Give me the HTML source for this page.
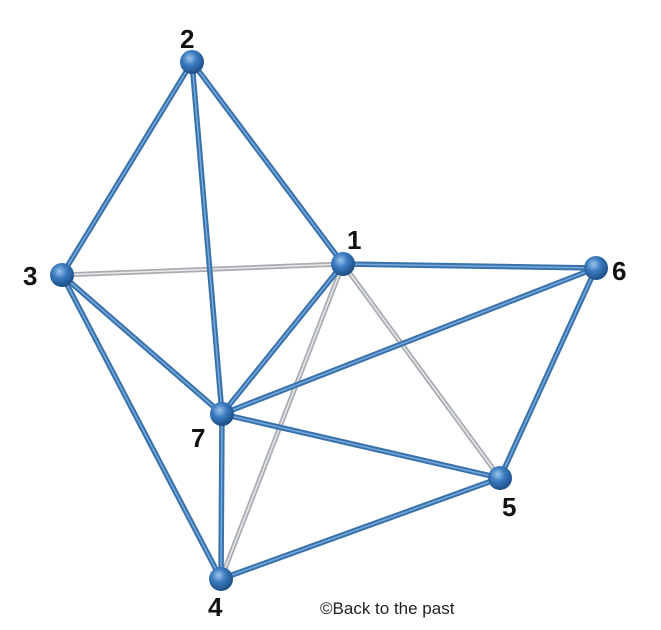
<!DOCTYPE html>
<html><head><meta charset="utf-8"><style>
html,body{margin:0;padding:0;background:#fff;width:661px;height:630px;overflow:hidden}
svg{display:block}
text{font-family:"Liberation Sans",Arial,sans-serif;font-weight:bold;font-size:26px;fill:#111}
</style></head><body>
<svg width="661" height="630" viewBox="0 0 661 630">
<defs>
<radialGradient id="g" cx="0.4" cy="0.35" r="0.65">
<stop offset="0" stop-color="#9cc6ee"/><stop offset="0.45" stop-color="#3b7bbf"/><stop offset="1" stop-color="#1d4e86"/>
</radialGradient>
</defs>
<g stroke-linecap="round">
<g stroke="#a9adb2" stroke-width="5">
<line x1="62" y1="275" x2="343" y2="264"/>
<line x1="343" y1="264" x2="221" y2="579"/>
<line x1="343" y1="264" x2="500" y2="478"/>
</g>
<g stroke="#e6e8ea" stroke-width="1.5">
<line x1="62" y1="275" x2="343" y2="264"/>
<line x1="343" y1="264" x2="221" y2="579"/>
<line x1="343" y1="264" x2="500" y2="478"/>
</g>
<g stroke="#3872ad" stroke-width="5.5">
<line x1="192" y1="62" x2="62" y2="275"/>
<line x1="192" y1="62" x2="222" y2="414"/>
<line x1="192" y1="62" x2="343" y2="264"/>
<line x1="62" y1="275" x2="222" y2="414"/>
<line x1="62" y1="275" x2="221" y2="579"/>
<line x1="343" y1="264" x2="596" y2="268"/>
<line x1="343" y1="264" x2="222" y2="414"/>
<line x1="222" y1="414" x2="596" y2="268"/>
<line x1="222" y1="414" x2="500" y2="478"/>
<line x1="222" y1="414" x2="221" y2="579"/>
<line x1="596" y1="268" x2="500" y2="478"/>
<line x1="500" y1="478" x2="221" y2="579"/>
</g>
<g stroke="#78a8d8" stroke-width="1.5">
<line x1="192" y1="62" x2="62" y2="275"/>
<line x1="192" y1="62" x2="222" y2="414"/>
<line x1="192" y1="62" x2="343" y2="264"/>
<line x1="62" y1="275" x2="222" y2="414"/>
<line x1="62" y1="275" x2="221" y2="579"/>
<line x1="343" y1="264" x2="596" y2="268"/>
<line x1="343" y1="264" x2="222" y2="414"/>
<line x1="222" y1="414" x2="596" y2="268"/>
<line x1="222" y1="414" x2="500" y2="478"/>
<line x1="222" y1="414" x2="221" y2="579"/>
<line x1="596" y1="268" x2="500" y2="478"/>
<line x1="500" y1="478" x2="221" y2="579"/>
</g>
</g>
<g fill="url(#g)">
<circle cx="192" cy="62" r="12"/>
<circle cx="62" cy="275" r="12"/>
<circle cx="343" cy="264" r="12"/>
<circle cx="596" cy="268" r="12"/>
<circle cx="222" cy="414" r="12"/>
<circle cx="500" cy="478" r="12"/>
<circle cx="221" cy="579" r="12"/>
</g>
<text x="180" y="48">2</text>
<text x="347" y="249">1</text>
<text x="23" y="285">3</text>
<text x="612" y="280">6</text>
<text x="191" y="447">7</text>
<text x="502" y="516">5</text>
<text x="208" y="616">4</text>
<text x="320" y="614" style="font-weight:normal;font-size:17px;fill:#222">©Back to the past</text>
</svg>
</body></html>
